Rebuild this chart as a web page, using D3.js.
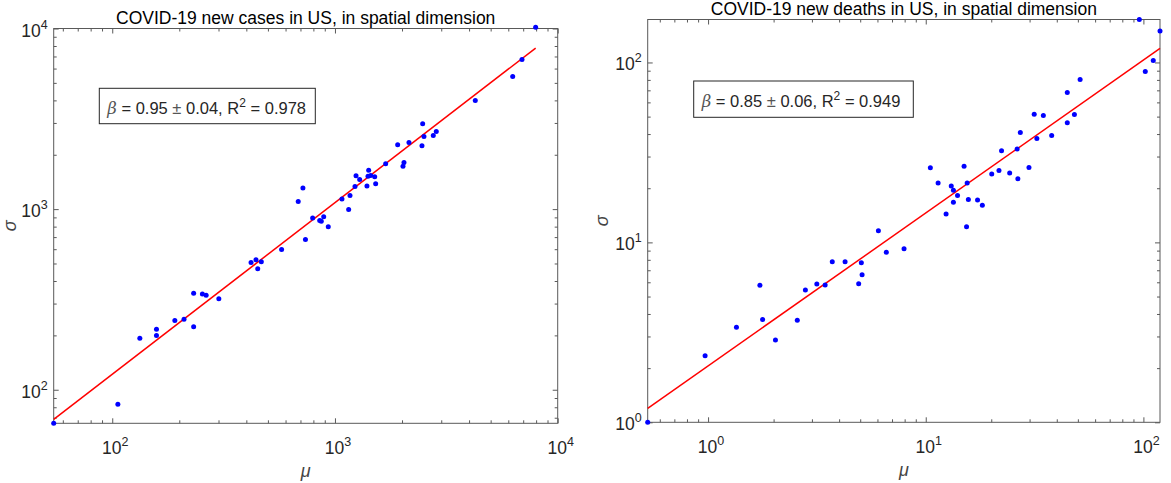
<!DOCTYPE html>
<html>
<head>
<meta charset="utf-8">
<script src="https://cdn.jsdelivr.net/npm/d3@7"></script>
<style>
  html, body { margin: 0; padding: 0; background: #fff; }
  svg { display: block; font-family: "Liberation Sans", Arial, Helvetica, sans-serif; }
</style>
</head>
<body>
<svg id="chart" width="1171" height="483"></svg>
<script>
// ---- Data: per-state mean (mu) and standard deviation (sigma) of daily counts ----
const casesMu = [7962, 6913, 6280, 4266, 2476, 2509, 2763, 2850, 2458, 2149, 1912, 1689, 2041, 2020,
  1417, 1243, 1291, 1407, 1447, 1508, 1523, 1392, 1230, 1168, 1075, 1152, 684, 718, 794, 854, 868, 890,
  933, 737, 576, 420, 442, 467, 450, 301, 232, 254, 264, 232, 210, 191, 158, 158, 133, 106, 54.6];
const casesSigma = [10170, 6737, 5425, 3996, 2965, 2526, 2558, 2692, 2240, 2339, 2269, 1781, 1813, 1730,
  1644, 1529, 1460, 1522, 1537, 1510, 1380, 1341, 1336, 1191, 1136, 996, 1103, 1307, 892, 866, 858, 907,
  798, 680, 598, 507, 524, 511, 467, 319, 342, 339, 334, 223, 246, 242, 216, 200, 193, 83, 65.2];

const deathsMu = [95.8, 119.2, 111.0, 102.0, 51.2, 44.7, 48.2, 44.7, 37.9, 34.7, 31.5, 32.4, 27.2, 26.3,
  29.8, 26.5, 24.3, 22.3, 21.7, 20.1, 15.0, 15.5, 13.1, 13.4, 14.0, 13.4, 15.7, 17.3, 18.2, 12.4, 15.4,
  10.5, 11.4, 7.95, 6.06, 6.59, 5.06, 4.26, 3.72, 5.10, 4.92, 3.45, 3.16, 2.80, 2.57, 1.73, 1.78, 2.04,
  1.35, 0.969, 0.528];
const deathsSigma = [173.3, 149.8, 102.6, 89.1, 80.4, 68.1, 51.4, 46.2, 39.3, 50.8, 51.6, 37.8, 40.8, 33.0,
  26.1, 22.6, 24.3, 32.3, 25.1, 24.0, 26.5, 21.4, 20.6, 19.5, 18.2, 16.7, 17.3, 17.2, 16.1, 14.4, 12.2,
  26.0, 21.4, 9.21, 11.6, 8.80, 7.70, 7.80, 7.80, 6.61, 5.89, 5.79, 5.87, 5.43, 3.69, 5.77, 3.73, 2.87,
  3.37, 2.34, 1.0];

// Power-law fits: log10(sigma) = beta * log10(mu) + intercept
const casesFit = [0.95, 0.04, 0.978, 0.1858];   // beta, error, R^2, intercept
const deathsFit = [0.85, 0.06, 0.949, 0.3133];

// Axis limits and decade ticks
const casesXLim = [54.6, 10000];
const casesYLim = [65.2, 10000];
const deathsXLim = [0.528, 119.2];
const deathsYLim = [1.0, 173.3];
const casesXTicks = [100, 1000, 10000];
const casesYTicks = [100, 1000, 10000];
const deathsXTicks = [1, 10, 100];
const deathsYTicks = [1, 10, 100];

const titles = ["COVID-19 new cases in US, in spatial dimension",
                "COVID-19 new deaths in US, in spatial dimension"];

// ---- Drawing ----
const svg = d3.select("#chart");
const AXIS_COLOR = "#595959";
const TEXT_COLOR = "#262626";
const TICK_FONT = 17.5, SUP_FONT = 12.5;

function minorTicks(domain) {
  const out = [];
  const lo = Math.floor(Math.log10(domain[0])), hi = Math.ceil(Math.log10(domain[1]));
  for (let e = lo; e <= hi; e++) {
    for (let m = 2; m <= 9; m++) {
      const v = m * Math.pow(10, e);
      if (v >= domain[0] && v <= domain[1]) out.push(v);
    }
  }
  return out;
}

function styleAxis(sel) {
  sel.select(".domain").remove();
  sel.selectAll(".tick line").attr("stroke", AXIS_COLOR).attr("stroke-width", 1);
  sel.selectAll(".tick text").remove();
}

function powLabel(sel, v) {
  const e = Math.round(Math.log10(v));
  sel.append("tspan").text("10");
  sel.append("tspan").attr("dy", -8).attr("font-size", SUP_FONT).text(e);
}

function drawPanel(cfg) {
  const { mu, sigma, xLim, yLim, xTicks, yTicks, fit, title, box, legend } = cfg;
  const [beta, err, r2, intercept] = fit;
  const g = svg.append("g");

  const x = d3.scaleLog().domain(xLim).range([box.left, box.right]);
  const y = d3.scaleLog().domain(yLim).range([box.bottom, box.top]);

  // ticks on all four sides, pointing inward
  const xMinor = minorTicks(xLim), yMinor = minorTicks(yLim);
  const MAJ = 5, MIN = 3;
  const axes = [
    [d3.axisBottom(x), `translate(0,${box.bottom})`, xTicks, xMinor],
    [d3.axisTop(x), `translate(0,${box.top})`, xTicks, xMinor],
    [d3.axisLeft(y), `translate(${box.left},0)`, yTicks, yMinor],
    [d3.axisRight(y), `translate(${box.right},0)`, yTicks, yMinor]
  ];
  axes.forEach(([ax, tr, major, minor]) => {
    const dom = ax.scale().domain();
    const maj = major.filter(v => v >= dom[0] * 0.9999 && v <= dom[1] * 1.0001);
    g.append("g").attr("transform", tr)
      .call(ax.tickValues(maj).tickSizeInner(-MAJ).tickSizeOuter(0)).call(styleAxis);
    g.append("g").attr("transform", tr)
      .call(ax.tickValues(minor).tickSizeInner(-MIN).tickSizeOuter(0)).call(styleAxis);
  });

  // box
  g.append("rect")
    .attr("x", box.left).attr("y", box.top)
    .attr("width", box.right - box.left).attr("height", box.bottom - box.top)
    .attr("fill", "none").attr("stroke", AXIS_COLOR).attr("stroke-width", 1);

  // tick labels
  xTicks.filter(v => v >= xLim[0] && v <= xLim[1] * 1.0001).forEach(v => {
    g.append("text").attr("x", x(v) + 3).attr("y", box.bottom + 31)
      .attr("text-anchor", "middle").attr("font-size", TICK_FONT).attr("fill", TEXT_COLOR)
      .call(powLabel, v);
  });
  yTicks.filter(v => v >= yLim[0] * 0.9999 && v <= yLim[1] * 1.0001).forEach(v => {
    g.append("text").attr("x", box.left - 6).attr("y", y(v) + 8)
      .attr("text-anchor", "end").attr("font-size", TICK_FONT).attr("fill", TEXT_COLOR)
      .call(powLabel, v);
  });

  // title and axis labels
  g.append("text").attr("x", (box.left + box.right) / 2).attr("y", box.top - 5)
    .attr("text-anchor", "middle").attr("font-size", 17.5).attr("fill", "#000").text(title);
  g.append("text").attr("x", (box.left + box.right) / 2).attr("y", box.bottom + 54)
    .attr("text-anchor", "middle").attr("font-size", 18).attr("font-style", "italic")
    .attr("fill", "#444").text("μ");
  g.append("text")
    .attr("transform", `translate(${box.left - cfg.ylabelGap},${(box.top + box.bottom) / 2}) rotate(-90)`)
    .attr("text-anchor", "middle").attr("font-size", 18).attr("font-style", "italic")
    .attr("fill", "#444").text("σ");

  // fitted power law over the data range
  const xs = [d3.min(mu), d3.max(mu)];
  const fitLine = xs.map(v => [v, Math.pow(10, beta * Math.log10(v) + intercept)]);
  g.append("path")
    .attr("d", d3.line().x(d => x(d[0])).y(d => y(d[1]))(fitLine))
    .attr("fill", "none").attr("stroke", "#ff0000").attr("stroke-width", 1.5);

  // data points
  g.append("g").selectAll("circle")
    .data(d3.zip(mu, sigma))
    .join("circle")
    .attr("cx", d => x(d[0])).attr("cy", d => y(d[1])).attr("r", 2.5)
    .attr("fill", "#0000ff");

  // annotation box
  const lb = legend;
  g.append("rect")
    .attr("x", box.left + lb.dx).attr("y", box.top + lb.dy)
    .attr("width", lb.w).attr("height", lb.h)
    .attr("fill", "#fff").attr("stroke", "#262626").attr("stroke-width", 1);
  const t = g.append("text")
    .attr("x", box.left + lb.dx + 8).attr("y", box.top + lb.dy + 26)
    .attr("font-size", 16.5).attr("fill", TEXT_COLOR);
  t.append("tspan").attr("font-style", "italic").attr("font-family", "'DejaVu Serif', serif")
    .attr("fill", "#555").text("β");
  t.append("tspan").text(` = ${beta.toFixed(2)} `);
  t.append("tspan").attr("fill", "#555").text("±");
  t.append("tspan").text(` ${err.toFixed(2)}, R`);
  t.append("tspan").attr("dy", -7).attr("font-size", 12).text("2");
  t.append("tspan").attr("dy", 7).text(` = ${r2.toFixed(3)}`);
}

drawPanel({
  mu: casesMu, sigma: casesSigma, xLim: casesXLim, yLim: casesYLim,
  xTicks: casesXTicks, yTicks: casesYTicks, fit: casesFit, title: titles[0],
  box: { left: 53.7, right: 557.7, top: 28.5, bottom: 423.3 },
  legend: { dx: 45.6, dy: 59.8, w: 216, h: 35.4 },
  ylabelGap: 38
});

drawPanel({
  mu: deathsMu, sigma: deathsSigma, xLim: deathsXLim, yLim: deathsYLim,
  xTicks: deathsXTicks, yTicks: deathsYTicks, fit: deathsFit, title: titles[1],
  box: { left: 647.7, right: 1160, top: 19.5, bottom: 422.3 },
  legend: { dx: 46, dy: 61.5, w: 219.6, h: 36.3 },
  ylabelGap: 40
});
</script>
</body>
</html>
